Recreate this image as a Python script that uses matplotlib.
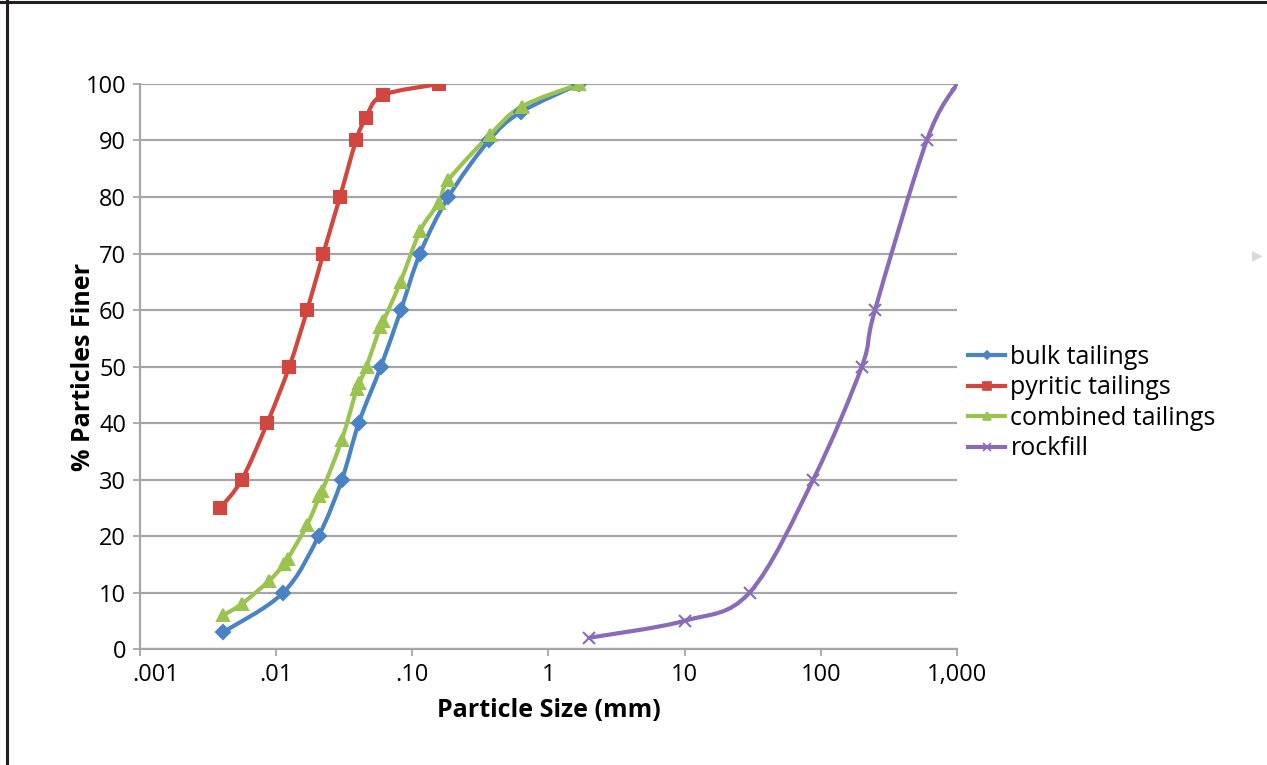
import numpy as np
import matplotlib
matplotlib.use("Agg")
import matplotlib.pyplot as plt
import matplotlib.transforms as mtransforms
from matplotlib.path import Path
from matplotlib.patches import PathPatch
from matplotlib.lines import Line2D

plt.rcParams['font.family'] = ['Open Sans', 'DejaVu Sans']

# particle size (mm) and % finer
bulk_x = [0.0041, 0.0113, 0.0205, 0.0304, 0.0404, 0.0588, 0.0824, 0.114, 0.184, 0.365, 0.624, 1.68]
bulk_y = [3, 10, 20, 30, 40, 50, 60, 70, 80, 90, 95, 100]

pyritic_x = [0.0039, 0.0056, 0.0086, 0.0125, 0.0169, 0.0222, 0.0294, 0.0386, 0.0456, 0.0605, 0.157]
pyritic_y = [25, 30, 40, 50, 60, 70, 80, 90, 94, 98, 100]

combined_x = [0.0041, 0.0056, 0.0088, 0.0115, 0.0122, 0.0169, 0.0208, 0.0218, 0.0303, 0.0390,
              0.0405, 0.0461, 0.0580, 0.0612, 0.082, 0.114, 0.157, 0.184, 0.371, 0.634, 1.68]
combined_y = [6, 8, 12, 15, 16, 22, 27, 28, 37, 46, 47, 50, 57, 58, 65, 74, 79, 83, 91, 96, 100]

rockfill_x = [2, 10, 30, 88, 200, 250, 600, 1000]
rockfill_y = [2, 5, 10, 30, 50, 60, 90, 100]

x_ticks = [0.001, 0.01, 0.1, 1, 10, 100, 1000]
x_ticklabels = ['.001', '.01', '.10', '1', '10', '100', '1,000']
y_ticks = list(range(0, 101, 10))


def smooth_path(x, y):
    # Excel-style smoothed line: Catmull-Rom bezier in (log x, y) space
    p = np.column_stack([np.log10(x), y]).astype(float)
    n = len(p)
    verts = [p[0]]
    codes = [Path.MOVETO]
    for i in range(n - 1):
        p0 = p[i - 1] if i > 0 else p[i]
        p1, p2 = p[i], p[i + 1]
        p3 = p[i + 2] if i + 2 < n else p[i + 1]
        verts += [p1 + (p2 - p0) / 6, p2 - (p3 - p1) / 6, p2]
        codes += [Path.CURVE4] * 3
    verts = np.array(verts)
    verts[:, 0] = 10 ** verts[:, 0]
    return Path(verts, codes)


fig = plt.figure(figsize=(12.67, 7.65), dpi=100)
ax = fig.add_axes([0.1105, 0.1516, 0.6448, 0.7386])

series = [
    ('bulk tailings', bulk_x, bulk_y, '#4a83c4', 'D', 7),
    ('pyritic tailings', pyritic_x, pyritic_y, '#d1463f', 's', 9),
    ('combined tailings', combined_x, combined_y, '#9bc34f', '^', 9),
    ('rockfill', rockfill_x, rockfill_y, '#8a6bb8', 'x', 8),
]

handles = []
for name, xs, ys, col, mk, ms in series:
    ax.add_patch(PathPatch(smooth_path(xs, ys), facecolor='none', edgecolor=col,
                           lw=3, zorder=3, capstyle='round', joinstyle='round'))
    ax.plot(xs, ys, ls='none', marker=mk, ms=ms, color=col, mew=1.5, zorder=4)
    handles.append(Line2D([], [], color=col, lw=3, marker=mk, ms=ms * 0.65, mew=1.2))

ax.set_xscale('log')
ax.set_xlim(0.001, 1000)
ax.set_ylim(0, 100)
ax.set_xticks(x_ticks)
ax.set_xticklabels(x_ticklabels)
ax.xaxis.set_minor_locator(matplotlib.ticker.NullLocator())
ax.set_yticks(y_ticks)

ax.grid(axis='y', color='#a6a6a6', lw=1.6)
ax.set_axisbelow(True)
for s in ['top', 'right']:
    ax.spines[s].set_visible(False)
for s in ['left', 'bottom']:
    ax.spines[s].set_color('#a6a6a6')
    ax.spines[s].set_linewidth(1.6)
ax.tick_params(axis='both', colors='#a6a6a6', length=5, width=1.3, labelsize=17,
               labelcolor='black', pad=5)

# first x label sits a bit to the right of its tick in the original
first = ax.get_xticklabels()[0]
first.set_transform(first.get_transform() +
                    mtransforms.ScaledTranslation(16 / 100, 0, fig.dpi_scale_trans))

ax.set_xlabel('Particle Size (mm)', fontsize=18, fontweight='bold', labelpad=8)
ax.set_ylabel('% Particles Finer', fontsize=18, fontweight='bold')
ax.yaxis.set_label_coords(-0.054, 0.5)

ax.legend(handles, [s[0] for s in series], loc='center left', bbox_to_anchor=(0.995, 0.435),
          frameon=False, fontsize=18, handlelength=1.5, handletextpad=0.2,
          labelspacing=0.22, borderaxespad=0.2)

# frame lines of the cropped page and the small grey arrow
fig.add_artist(Line2D([7 / 1267, 7 / 1267], [0, 1], color='#231f20', lw=2.2))
fig.add_artist(Line2D([0, 1], [1 - 1.5 / 765, 1 - 1.5 / 765], color='#231f20', lw=2.2))
fig.text(1257 / 1267, 1 - 255 / 765, '\u25b6', color='#d9d9d9', fontsize=10,
         ha='center', va='center', family='DejaVu Sans')

fig.savefig('out.png', dpi=100, facecolor='white')
